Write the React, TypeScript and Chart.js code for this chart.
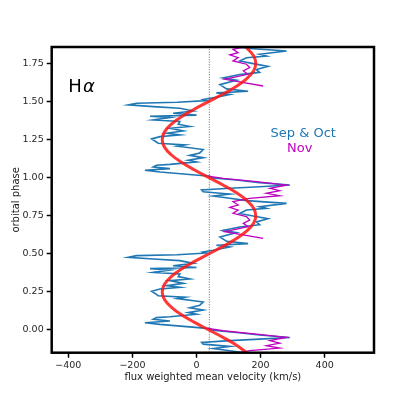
import React, { useEffect, useRef } from "react";
import { Chart, registerables } from "chart.js";

Chart.register(...registerables);

// Sep & Oct trace (one orbital cycle, phase 0..1)
const bluePhase = [0.009, 0.037, 0.048, 0.059, 0.07, 0.081, 0.087, 0.103, 0.114, 0.131, 0.146, 0.162, 0.184, 0.206, 0.215, 0.225, 0.232, 0.254, 0.269, 0.28, 0.291, 0.306, 0.324, 0.335, 0.35, 0.368, 0.378, 0.394, 0.403, 0.41, 0.422, 0.437, 0.455, 0.466, 0.477, 0.488, 0.494, 0.505, 0.512, 0.523, 0.545, 0.556, 0.567, 0.582, 0.61, 0.639, 0.654, 0.676, 0.691, 0.709, 0.73, 0.748, 0.765, 0.787, 0.798, 0.809, 0.831, 0.849, 0.864, 0.879, 0.892, 0.907, 0.919, 0.93, 0.94, 0.951, 0.967, 0.984, 0.998];
const blueVel = [42, -114, -161, -83, -135, -125, -83, 0, -26, 21, -21, 10, 21, -60, -36, -120, -124, -140, -114, -52, -93, -41, -83, -21, -57, -52, -135, -83, -145, 0, -73, -10, -52, -135, -213, -187, -60, 31, 21, 52, 104, 62, 161, 94, 73, 125, 83, 135, 197, 187, 223, 177, 135, 156, 218, 197, 281, 156, 104, 52, 104, 21, 16, 104, 197, 291, 197, 125, 50];

// Nov trace
const magPhase = [0.601, 0.645, 0.678, 0.7, 0.722, 0.744, 0.766, 0.787, 0.805, 0.82, 0.842, 0.864, 0.881, 0.897, 0.914, 0.93, 0.951, 0.973, 0.995, 1.01];
const magVel = [208, 88, 161, 146, 166, 156, 114, 130, 104, 130, 114, 166, 260, 218, 260, 229, 281, 187, 83, 36];

// Fitted curve
const redPhase = [-0.15, -0.1, -0.05, 0, 0.05, 0.1, 0.15, 0.2, 0.25, 0.3, 0.35, 0.4, 0.45, 0.5, 0.55, 0.6, 0.65, 0.7, 0.75, 0.8, 0.85, 0.9, 0.95, 1.0, 1.05, 1.1, 1.15, 1.2, 1.25, 1.3, 1.35, 1.4, 1.45, 1.5, 1.55, 1.6, 1.65, 1.7, 1.75, 1.8, 1.85];
const redVel = [157, 125, 84, 39, -6, -47, -79, -100, -107, -100, -79, -47, -6, 39, 84, 125, 157, 178, 185, 178, 157, 125, 84, 39, -6, -47, -79, -100, -107, -100, -79, -47, -6, 39, 84, 125, 157, 178, 185, 178, 157];

const phaseCopies = [-1, 0, 1];
const systemicVel = 40;

const xTicks = [-400, -200, 0, 200, 400];
const xTickLabels = ["\u2212400", "\u2212200", "0", "200", "400"];
const yTicks = [0, 0.25, 0.5, 0.75, 1.0, 1.25, 1.5, 1.75];
const yTickLabels = ["0.00", "0.25", "0.50", "0.75", "1.00", "1.25", "1.50", "1.75"];

const X_MIN = -452;
const X_MAX = 554;
const Y_MIN = -0.149;
const Y_MAX = 1.857;

const FONT = "'DejaVu Sans', sans-serif";

export default function App() {
  const ref = useRef<HTMLCanvasElement | null>(null);

  useEffect(() => {
    if (!ref.current) return;
    const blueData = phaseCopies.flatMap((k) => bluePhase.map((p, i) => ({ x: blueVel[i], y: p + k })));
    const magSets = phaseCopies.map((k) => ({
      data: magPhase.map((p, i) => ({ x: magVel[i], y: p + k })),
      showLine: true,
      borderColor: "#bf00bf",
      borderWidth: 1.3,
      pointRadius: 0,
      tension: 0,
      order: 1,
    }));
    const redData = redPhase.map((p, i) => ({ x: redVel[i], y: p }));

    const framePlugin = {
      id: "frame",
      afterDatasetsDraw(chart: any) {
        const { ctx, chartArea: a, scales } = chart;
        const xs = scales.x;
        const ys = scales.y;
        ctx.save();
        ctx.strokeStyle = "#000";
        ctx.lineWidth = 2.5;
        ctx.strokeRect(a.left, a.top, a.right - a.left, a.bottom - a.top);

        // H alpha
        ctx.fillStyle = "#000";
        ctx.textBaseline = "middle";
        ctx.textAlign = "left";
        const hx = xs.getPixelForValue(-400);
        const hy = ys.getPixelForValue(1.59);
        ctx.font = `18px ${FONT}`;
        ctx.fillText("H", hx, hy);
        const hw = ctx.measureText("H").width;
        ctx.font = `italic 18px ${FONT}`;
        ctx.fillText("\u03b1", hx + hw + 1, hy);

        // legend texts
        ctx.textAlign = "center";
        ctx.font = `13px ${FONT}`;
        ctx.fillStyle = "#1f77b4";
        ctx.fillText("Sep & Oct", xs.getPixelForValue(333), ys.getPixelForValue(1.286));
        ctx.fillStyle = "#bf00bf";
        ctx.fillText("Nov", xs.getPixelForValue(322), ys.getPixelForValue(1.19));

        // axis titles
        ctx.fillStyle = "#1a1a1a";
        ctx.font = `10px ${FONT}`;
        ctx.fillText("flux weighted mean velocity (km/s)", (a.left + a.right) / 2, 377);
        ctx.save();
        ctx.translate(16, (a.top + a.bottom) / 2);
        ctx.rotate(-Math.PI / 2);
        ctx.fillText("orbital phase", 0, 0);
        ctx.restore();
        ctx.restore();
      },
    };

    const chart = new Chart(ref.current, {
      type: "scatter",
      data: {
        datasets: [
          {
            data: redData,
            showLine: true,
            borderColor: "rgba(255,20,20,0.85)",
            borderWidth: 3,
            pointRadius: 0,
            tension: 0.4,
            order: 0,
          } as any,
          ...magSets,
          {
            data: blueData,
            showLine: true,
            borderColor: "#1f77b4",
            borderWidth: 1.6,
            pointRadius: 0,
            tension: 0,
            order: 2,
          },
          {
            data: [
              { x: systemicVel, y: Y_MIN },
              { x: systemicVel, y: Y_MAX },
            ],
            showLine: true,
            borderColor: "#666",
            borderWidth: 1,
            borderDash: [1, 1.5],
            pointRadius: 0,
            order: 3,
          },
        ],
      },
      options: {
        responsive: false,
        animation: false,
        layout: { padding: { left: 0, top: 47, right: 41, bottom: 0 } },
        plugins: { legend: { display: false }, tooltip: { enabled: false } },
        scales: {
          x: {
            type: "linear",
            min: X_MIN,
            max: X_MAX,
            afterBuildTicks: (s: any) => {
              s.ticks = xTicks.map((v) => ({ value: v }));
            },
            afterFit: (s: any) => {
              s.height = 44.3;
            },
            grid: { drawOnChartArea: false, drawTicks: true, tickLength: 5, tickWidth: 1.5, tickColor: "#000" } as any,
            border: { display: false },
            ticks: {
              color: "#262626",
              font: { family: FONT, size: 9.5 },
              padding: 2,
              maxRotation: 0,
              callback: (v: any) => {
                const i = xTicks.indexOf(Number(v));
                return i >= 0 ? xTickLabels[i] : "";
              },
            },
          },
          y: {
            type: "linear",
            min: Y_MIN,
            max: Y_MAX,
            afterBuildTicks: (s: any) => {
              s.ticks = yTicks.map((v) => ({ value: v }));
            },
            afterFit: (s: any) => {
              s.width = 51.7;
            },
            grid: { drawOnChartArea: false, drawTicks: true, tickLength: 5, tickWidth: 1.5, tickColor: "#000" } as any,
            border: { display: false },
            ticks: {
              color: "#262626",
              font: { family: FONT, size: 9.5 },
              padding: 3,
              callback: (v: any) => {
                const i = yTicks.indexOf(Number(v));
                return i >= 0 ? yTickLabels[i] : "";
              },
            },
          },
        },
      },
      plugins: [framePlugin],
    });
    return () => chart.destroy();
  }, []);

  return (
    <div style={{ position: "fixed", left: 0, top: 0, width: 415, height: 397, background: "#fff" }}>
      <canvas ref={ref} width={415} height={397} style={{ display: "block" }} />
    </div>
  );
}
